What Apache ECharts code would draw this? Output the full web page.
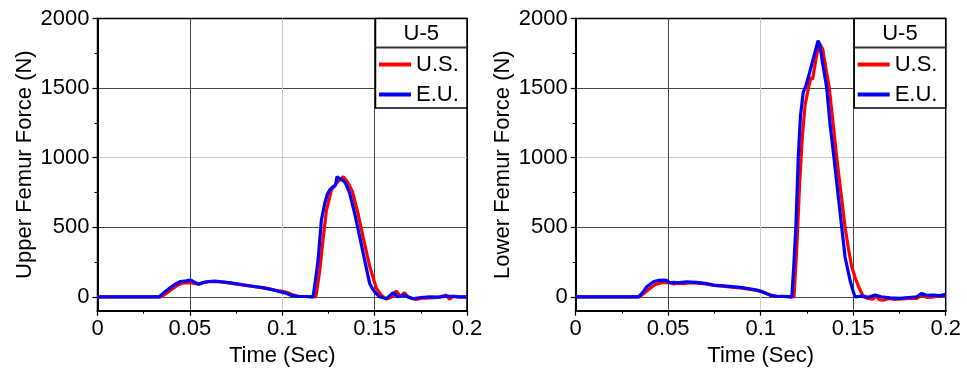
<!DOCTYPE html>
<html>
<head>
<meta charset="utf-8">
<script src="https://cdn.jsdelivr.net/npm/echarts@6/dist/echarts.min.js"></script>
<style>html,body{margin:0;padding:0;background:#fff}#c{width:967px;height:373px}</style>
</head>
<body>
<div id="c"></div>
<script>
// ---- Data (time in s, force in N) ----
var legendTitle = 'U-5';
var seriesNames = ['U.S.', 'E.U.'];
var xTicks = [0, 0.05, 0.1, 0.15, 0.2];
var yTicks = [0, 500, 1000, 1500, 2000];
var yMinorTicks = [250, 750, 1250, 1750];

// Upper femur, U.S.
var tUpperUS = [0, 0.0345, 0.037, 0.04, 0.043, 0.046, 0.049, 0.051, 0.053, 0.055, 0.058, 0.061, 0.064, 0.068, 0.073, 0.079, 0.085, 0.091, 0.096, 0.1, 0.103, 0.106, 0.109, 0.113, 0.118, 0.1185, 0.1203, 0.122, 0.1239, 0.1266, 0.1293, 0.1315, 0.133, 0.1345, 0.136, 0.138, 0.141, 0.1437, 0.1473, 0.151, 0.153, 0.155, 0.1565, 0.158, 0.16, 0.1617, 0.164, 0.1662, 0.168, 0.1725, 0.176, 0.18, 0.184, 0.1888, 0.1905, 0.1925, 0.195, 0.2];
var fUpperUS = [0, 0, 22, 52, 80, 98, 102, 100, 95, 90, 105, 108, 110, 105, 96, 84, 72, 62, 48, 40, 30, 12, 3, 2, 0, 24, 188, 403, 619, 767, 815, 845, 863, 840, 810, 755, 600, 432, 220, 60, 20, -5, -15, -8, 5, 43, 0, 29, -2, -19, -10, -8, -5, 12, -19, 5, 0, -3];
// Upper femur, E.U.
var tUpperEU = [0, 0.0334, 0.036, 0.039, 0.042, 0.045, 0.048, 0.0505, 0.0525, 0.0545, 0.057, 0.06, 0.0635, 0.067, 0.072, 0.078, 0.084, 0.09, 0.095, 0.099, 0.102, 0.105, 0.108, 0.112, 0.1167, 0.118, 0.1194, 0.1212, 0.123, 0.1245, 0.1257, 0.1275, 0.1288, 0.1296, 0.131, 0.132, 0.1335, 0.1347, 0.1365, 0.1392, 0.1419, 0.1446, 0.1473, 0.149, 0.15, 0.1527, 0.1563, 0.158, 0.16, 0.1626, 0.1653, 0.168, 0.1707, 0.175, 0.1797, 0.185, 0.1888, 0.195, 0.2];
var fUpperEU = [0, 0, 30, 62, 90, 110, 114, 120, 105, 91, 102, 110, 113, 108, 100, 88, 76, 64, 50, 35, 26, 10, 2, 2, 0, 120, 264, 552, 672, 740, 768, 791, 800, 863, 850, 840, 830, 803, 744, 600, 432, 264, 96, 55, 36, 0, -14, 5, 29, 0, 12, 0, -14, -5, 0, -3, 5, 0, 0];

// Lower femur, U.S.
var tLowerUS = [0, 0.0345, 0.037, 0.04, 0.043, 0.046, 0.049, 0.051, 0.053, 0.055, 0.058, 0.062, 0.066, 0.071, 0.076, 0.082, 0.09, 0.095, 0.099, 0.102, 0.106, 0.109, 0.113, 0.118, 0.1195, 0.121, 0.1225, 0.124, 0.1258, 0.1272, 0.128, 0.129, 0.1303, 0.1318, 0.1335, 0.1355, 0.1371, 0.1411, 0.1456, 0.1475, 0.1492, 0.151, 0.153, 0.1555, 0.158, 0.1605, 0.1625, 0.164, 0.1663, 0.169, 0.172, 0.176, 0.18, 0.1843, 0.187, 0.19, 0.194, 0.197, 0.2];
var fLowerUS = [0, 0, 25, 60, 88, 100, 104, 100, 92, 98, 95, 102, 98, 90, 80, 72, 62, 52, 45, 30, 10, 3, 2, 0, 350, 800, 1150, 1380, 1500, 1580, 1560, 1640, 1740, 1820, 1780, 1620, 1500, 1000, 500, 340, 216, 140, 70, 0, -12, -18, 5, -20, -25, -12, -18, -15, -12, -12, 12, -5, 0, 8, 5];
// Lower femur, E.U.
var tLowerEU = [0, 0.034, 0.0365, 0.0384, 0.042, 0.045, 0.0474, 0.049, 0.051, 0.053, 0.055, 0.06, 0.065, 0.07, 0.0744, 0.08, 0.0888, 0.094, 0.0978, 0.101, 0.105, 0.108, 0.112, 0.1168, 0.1178, 0.119, 0.1203, 0.1215, 0.123, 0.1245, 0.1262, 0.128, 0.1296, 0.131, 0.132, 0.1332, 0.1357, 0.1375, 0.1396, 0.1438, 0.1456, 0.1483, 0.15, 0.151, 0.1535, 0.1555, 0.158, 0.1618, 0.165, 0.17, 0.1753, 0.18, 0.1843, 0.187, 0.19, 0.1933, 0.197, 0.2];
var fLowerEU = [0, 0, 35, 72, 108, 118, 120, 118, 101, 104, 100, 108, 104, 96, 84, 78, 68, 58, 48, 35, 12, 2, 3, 0, 200, 500, 1000, 1300, 1470, 1520, 1600, 1690, 1770, 1840, 1810, 1700, 1500, 1238, 1000, 500, 286, 119, 40, 0, 3, 5, -3, 12, 0, -8, -12, -5, 0, 24, 10, 12, 8, 17];

var yNames = ['Upper Femur Force (N)', 'Lower Femur Force (N)'];
var xName = 'Time (Sec)';

// ---- Chart ----
function pairs(t, f) { return t.map(function (v, i) { return [v, f[i]]; }); }

var FONT = 'Liberation Sans, Arial, sans-serif';
var FS = 22;
var grids = [
  { left: 97.5, top: 18.5, width: 369.5, height: 292.2 },
  { left: 575.7, top: 18.5, width: 370, height: 292.2 }
];
var colors = ['#ff0000', '#0000ff'];
var data = [
  [pairs(tUpperUS, fUpperUS), pairs(tUpperEU, fUpperEU)],
  [pairs(tLowerUS, fLowerUS), pairs(tLowerEU, fLowerEU)]
];

var xAxes = [], yAxes = [], series = [], legends = [], graphics = [];
grids.forEach(function (g, gi) {
  g.show = true; g.borderColor = '#000'; g.borderWidth = 1.5; g.backgroundColor = 'transparent';
  xAxes.push({
    type: 'value', gridIndex: gi, min: 0, max: 0.2, interval: 0.05,
    name: xName, nameLocation: 'middle', nameGap: 33,
    nameTextStyle: { fontFamily: FONT, fontSize: FS, color: '#000' },
    axisLine: { show: true, onZero: false, lineStyle: { color: '#000', width: 2 } },
    axisTick: { show: true, inside: false, length: 5, lineStyle: { color: '#000', width: 1.2 } },
    minorTick: { show: true, splitNumber: 2, length: 3, lineStyle: { color: '#000', width: 1 } },
    axisLabel: { fontFamily: FONT, fontSize: FS, color: '#000', margin: 7,
      formatter: function (v) { return String(+(+v).toFixed(3)); } },
    splitLine: { show: true, lineStyle: { color: ['#000', '#444', '#c8c8c8', '#444', '#000'], width: 1 } }
  });
  yAxes.push({
    type: 'value', gridIndex: gi, min: -100, max: 2000,
    name: yNames[gi], nameLocation: 'middle', nameGap: 62,
    nameTextStyle: { fontFamily: FONT, fontSize: FS, color: '#000' },
    axisLine: { show: true, onZero: false, lineStyle: { color: '#000', width: 2 } },
    axisTick: { show: true, inside: false, length: 5, customValues: yTicks, lineStyle: { color: '#000', width: 1.2 } },
    axisLabel: { fontFamily: FONT, fontSize: FS, color: '#000', margin: 8, customValues: yTicks,
      formatter: function (v) { return String(Math.round(+v)); } },
    splitLine: { show: true, lineStyle: { color: ['#444', '#444', '#c8c8c8', '#444', '#000'], width: 1 } }
  });
  yAxes.push({
    type: 'value', gridIndex: gi, min: -100, max: 2000, position: 'left',
    axisLine: { show: false },
    axisTick: { show: true, inside: false, length: 3, customValues: yMinorTicks, lineStyle: { color: '#000', width: 1 } },
    axisLabel: { show: false, customValues: yMinorTicks },
    splitLine: { show: false }
  });
  seriesNames.forEach(function (nm, si) {
    series.push({
      type: 'line', name: nm, xAxisIndex: gi, yAxisIndex: gi * 2,
      data: data[gi][si], showSymbol: false, symbol: 'none',
      lineStyle: { color: colors[si], width: 3.2 }, itemStyle: { color: colors[si] },
      z: 3 + si, animation: false
    });
  });
  var bx = g.left + g.width - 91.5, by = 18.5;
  graphics.push({ type: 'rect', z: 50, shape: { x: bx, y: by, width: 91.5, height: 89.5 },
    style: { fill: '#fff', stroke: '#000', lineWidth: 1.5 } });
  graphics.push({ type: 'line', z: 51, shape: { x1: bx, y1: by + 29, x2: bx + 91.5, y2: by + 29 },
    style: { stroke: '#333', lineWidth: 2 } });
  graphics.push({ type: 'text', z: 52, x: bx + 45.75, y: by + 15,
    style: { text: legendTitle, font: FS + 'px ' + FONT, fill: '#000', align: 'center', verticalAlign: 'middle' } });
  legends.push({
    data: seriesNames, orient: 'vertical', left: bx + 3.5, top: 53.5, padding: 0,
    itemWidth: 32, itemHeight: 4, itemGap: 8, icon: 'rect', z: 60,
    textStyle: { fontFamily: FONT, fontSize: FS, color: '#000', lineHeight: 22 }
  });
});

var chart = echarts.init(document.getElementById('c'), null, { renderer: 'canvas' });
chart.setOption({
  animation: false,
  backgroundColor: '#fff',
  textStyle: { fontFamily: FONT },
  grid: grids, xAxis: xAxes, yAxis: yAxes, series: series, legend: legends,
  graphic: graphics
});
</script>
</body>
</html>
